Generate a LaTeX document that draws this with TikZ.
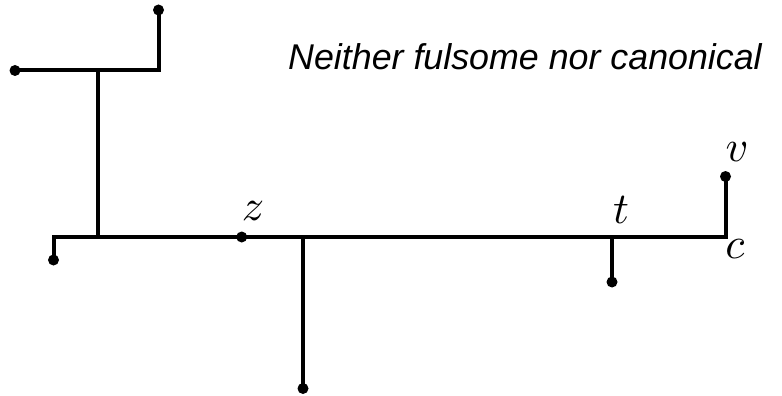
\documentclass[tikz,border=0pt]{standalone}
\usepackage{fix-cm}
\usepackage{graphicx}
\usepackage{fontspec}
\newfontfamily\capfont{Liberation Sans}
\newcommand{\biglbl}[1]{\scalebox{4.4}{$#1$}}
\begin{document}
\begin{tikzpicture}[x=1pt,y=-1pt,
  wire/.style={line width=4pt},
  blob/.style={circle,fill=black,inner sep=0pt,minimum size=11pt},
  lbl/.style={inner sep=0pt}]
\useasboundingbox (0,0) rectangle (782,396);
% dots
\node[blob] (tl) at (158.5,10) {};
\node[blob] (l) at (15,70.5) {};
\node[blob] (ll) at (53.5,260) {};
\node[blob] (z) at (241.7,237) {};
\node[blob] (b) at (303,388.5) {};
\node[blob] (t) at (612,282) {};
\node[blob] (v) at (725.5,176.5) {};
% junctions
\coordinate (tr) at (158.5,70.5);
\coordinate (j1) at (98,70.5);
\coordinate (j2) at (98,237);
\coordinate (le) at (53.5,237);
\coordinate (j3) at (303,237);
\coordinate (j4) at (612,237);
\coordinate (c) at (725.5,237);
% wires
\draw[wire] (l.center) -- (tr) -- (tl.center);
\draw[wire] (j1) -- (j2);
\draw[wire] (ll.center) -- (le) -- (c) -- (v.center);
\draw[wire] (j3) -- (b.center);
\draw[wire] (j4) -- (t.center);
% labels
\node[lbl] (zl) at (253,211) {\biglbl{z}};
\node[lbl] (tl2) at (621,210) {\biglbl{t}};
\node[lbl] (vl) at (737,152) {\biglbl{v}};
\node[lbl] (cl) at (735,249) {\biglbl{c}};
\node[anchor=base east,inner sep=0pt,font=\capfont\itshape\fontsize{35.8}{43}\selectfont] (cap) at (762,70) {Neither fulsome nor canonical};
\end{tikzpicture}
\end{document}
